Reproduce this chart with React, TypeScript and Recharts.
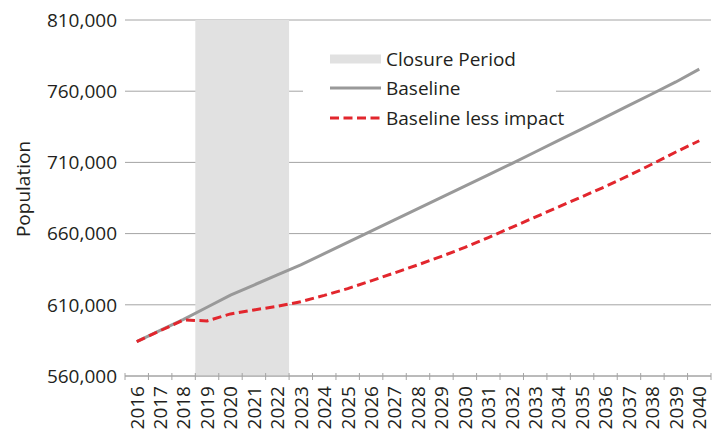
import React from 'react';
import { LineChart, Line, XAxis, YAxis, CartesianGrid, ReferenceArea, Legend } from 'recharts';

const years = [2016, 2017, 2018, 2019, 2020, 2021, 2022, 2023, 2024, 2025, 2026, 2027, 2028, 2029, 2030, 2031, 2032, 2033, 2034, 2035, 2036, 2037, 2038, 2039, 2040];
const baseline = [584100, 592000, 599800, 608300, 616800, 623900, 631000, 638000, 645900, 653800, 661700, 669600, 677500, 685400, 693300, 701200, 709200, 717300, 725400, 733600, 741800, 750000, 758200, 766500, 775500];
const baselineLessImpact = [584100, 591800, 599300, 598700, 603600, 606400, 608900, 612200, 616600, 621400, 626800, 632400, 638100, 644000, 650300, 657200, 664400, 671600, 678800, 685900, 693100, 700800, 708900, 717300, 725200];
const yTicks = [560000, 610000, 660000, 710000, 760000, 810000];
const closureYears = [2019, 2022];
const legendLabels = ['Closure Period', 'Baseline', 'Baseline less impact'];

const FONT = '"Open Sans", "Noto Sans", sans-serif';
const FONT_SIZE = 19;
const TEXT = '#231f20';
const GRID = '#a4a4a4';
const SHADE = '#e1e1e1';
const GREY_LINE = '#999999';
const RED = '#e2262d';

const data = years.map((year, i) => ({ year, baseline: baseline[i], lessImpact: baselineLessImpact[i] }));
const bandEdges = [...years.map((y) => y - 0.5), years[years.length - 1] + 0.5];
const xTicks = [...bandEdges, ...years].sort((a, b) => a - b);

const XTick = (props: any) => {
  const { x, y, payload } = props;
  const v = payload.value;
  if (!Number.isInteger(v)) {
    return <line x1={x} x2={x} y1={y - 3} y2={y + 4} stroke={GRID} strokeWidth={1} />;
  }
  return (
    <text
      transform={`translate(${x},${y + 10}) rotate(-90)`}
      textAnchor="end"
      dy="0.36em"
      fontSize={FONT_SIZE}
      fontFamily={FONT}
      fill={TEXT}
    >
      {v}
    </text>
  );
};

const LegendContent = () => (
  <div style={{ fontFamily: FONT, fontSize: FONT_SIZE, color: TEXT, paddingTop: 2, whiteSpace: 'nowrap' }}>
    {legendLabels.map((label, i) => (
      <div key={label} style={{ display: 'flex', alignItems: 'center', height: 29.5, whiteSpace: 'nowrap' }}>
        <svg width={56} height={12} style={{ marginLeft: 27, flex: 'none' }}>
          {i === 0 && <rect x={0} y={1.5} width={51} height={9} fill={SHADE} />}
          {i === 1 && <line x1={0} x2={51} y1={6} y2={6} stroke={GREY_LINE} strokeWidth={3} />}
          {i === 2 && <line x1={0} x2={51} y1={6} y2={6} stroke={RED} strokeWidth={3} strokeDasharray="9 4.5" />}
        </svg>
        <span style={{ lineHeight: '20px', whiteSpace: 'nowrap', flex: 'none' }}>{label}</span>
      </div>
    ))}
  </div>
);

export default function App() {
  return (
    <LineChart width={713} height={426} data={data} margin={{ top: 12, right: 10, left: 0, bottom: 0 }}>
      <CartesianGrid horizontal vertical={false} stroke={GRID} strokeWidth={1} />
      <ReferenceArea
        x1={closureYears[0] - 0.5}
        x2={closureYears[1] + 0.5}
        y1={560000}
        y2={810000}
        fill={SHADE}
        fillOpacity={1}
        stroke="none"
        ifOverflow="visible"
      />
      <XAxis
        dataKey="year"
        type="number"
        domain={[bandEdges[0], bandEdges[bandEdges.length - 1]]}
        ticks={xTicks}
        interval={0}
        tick={<XTick />}
        tickLine={false}
        tickSize={0}
        tickMargin={0}
        axisLine={{ stroke: GRID, strokeWidth: 1 }}
        height={58}
        allowDecimals
      />
      <YAxis
        domain={[560000, 810000]}
        ticks={yTicks}
        interval={0}
        width={117}
        axisLine={false}
        tickLine={false}
        tickSize={0}
        tickMargin={8}
        tick={{ fontSize: FONT_SIZE, fontFamily: FONT, fill: TEXT }}
        tickFormatter={(v: number) => v.toLocaleString('en-US')}
        label={{ value: 'Population', angle: -90, position: 'center', dx: -43, dy: -9, style: { fontSize: FONT_SIZE, fontFamily: FONT, fill: TEXT } }}
      />
      <Line type="linear" dataKey="baseline" stroke={GREY_LINE} strokeWidth={3} dot={false} activeDot={false} isAnimationActive={false} />
      <Line type="linear" dataKey="lessImpact" stroke={RED} strokeWidth={3} strokeDasharray="9 4.5" dot={false} activeDot={false} isAnimationActive={false} />
      <Legend
        layout="vertical"
        align="center"
        verticalAlign="middle"
        content={<LegendContent />}
        wrapperStyle={{ position: 'absolute', left: 295, top: 34, width: 253, height: 94, background: '#ffffff', overflow: 'visible', whiteSpace: 'nowrap' }}
      />
    </LineChart>
  );
}
